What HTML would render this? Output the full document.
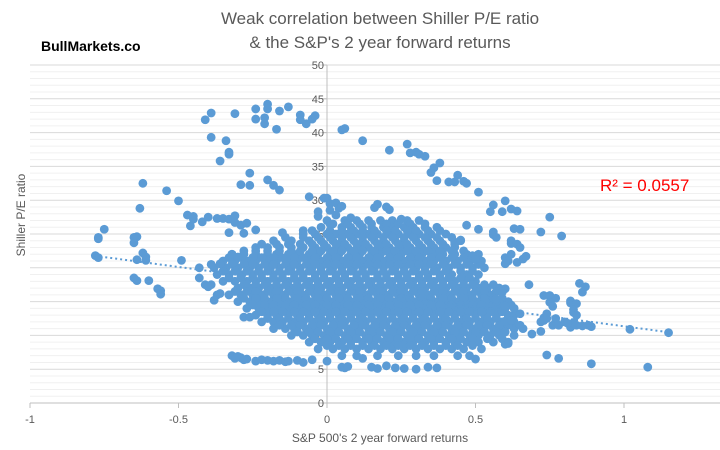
<!DOCTYPE html>
<html><head><meta charset="utf-8"><style>
html,body{margin:0;padding:0;background:#fff;}
svg{display:block;font-family:"Liberation Sans",Calibri,sans-serif;}
</style></head><body>
<svg id="chart" width="720" height="450" viewBox="0 0 720 450">
<text x="380" y="24" text-anchor="middle" font-size="17" fill="#595959">Weak correlation between Shiller P/E ratio</text>
<text x="380" y="48" text-anchor="middle" font-size="17" fill="#595959">&amp; the S&amp;P's 2 year forward returns</text>
<text x="41" y="51" font-size="14" font-weight="bold" fill="#000">BullMarkets.co</text>
<g id="grid"></g>
<g id="axes"></g>
<g id="points"></g>
<g id="trend"></g>
<text x="600" y="191" font-size="17" fill="#ff0000">R² = 0.0557</text>
<text transform="translate(25,215) rotate(-90)" text-anchor="middle" font-size="12" fill="#595959">Shiller P/E ratio</text>
<text x="380" y="442" text-anchor="middle" font-size="12" fill="#595959">S&amp;P 500's 2 year forward returns</text>
</svg>
<script>
const xTicks = [-1, -0.5, 0, 0.5, 1];
const xTickLabels = ["-1", "-0.5", "0", "0.5", "1"];
const yTicks = [0, 5, 10, 15, 20, 25, 30, 35, 40, 45, 50];
const trendSlope = -5.85;
const trendIntercept = 17.2;
const trendRange = [-0.78, 1.15];

const coreY = [27,26,25,24,23,22,21,20,19,18,17,16,15,14,13,12,11,10,9,8,7];
const coreX = [
[0.0,0.06,0.1,0.14,0.18,0.22,0.27,0.31],
[-0.02,0.05,0.08,0.12,0.15,0.19,0.22,0.26,0.29,0.33,0.37],
[-0.08,-0.04,0,0.03,0.07,0.1,0.14,0.17,0.21,0.24,0.28,0.31,0.35,0.4],
[-0.18,-0.12,-0.06,-0.02,0.02,0.05,0.09,0.12,0.16,0.19,0.23,0.26,0.3,0.34,0.38,0.45],
[-0.24,-0.2,-0.16,-0.12,-0.08,-0.04,0,0.04,0.07,0.11,0.14,0.18,0.21,0.25,0.28,0.32,0.36,0.4,0.43],
[-0.32,-0.28,-0.24,-0.2,-0.17,-0.13,-0.1,-0.06,-0.03,0.01,0.04,0.08,0.11,0.15,0.18,0.22,0.25,0.29,0.32,0.36,0.39,0.43,0.47,0.51],
[-0.35,-0.31,-0.27,-0.24,-0.2,-0.17,-0.13,-0.1,-0.06,-0.02,0.01,0.05,0.08,0.12,0.15,0.19,0.22,0.26,0.29,0.33,0.36,0.4,0.44,0.48,0.52],
[-0.43,-0.38,-0.34,-0.3,-0.26,-0.23,-0.19,-0.16,-0.12,-0.09,-0.05,-0.02,0.02,0.05,0.09,0.12,0.16,0.19,0.23,0.26,0.3,0.33,0.37,0.41,0.45,0.49,0.53],
[-0.37,-0.33,-0.29,-0.25,-0.22,-0.18,-0.15,-0.11,-0.08,-0.04,-0.01,0.03,0.06,0.1,0.13,0.17,0.2,0.24,0.27,0.31,0.34,0.38,0.42,0.47,0.51],
[-0.35,-0.31,-0.27,-0.24,-0.2,-0.17,-0.13,-0.1,-0.06,-0.03,0.01,0.04,0.08,0.11,0.15,0.18,0.22,0.25,0.29,0.32,0.36,0.39,0.43,0.46,0.5],
[-0.3,-0.26,-0.23,-0.19,-0.16,-0.12,-0.09,-0.05,-0.02,0.02,0.05,0.09,0.12,0.16,0.19,0.23,0.26,0.3,0.33,0.37,0.4,0.44,0.47,0.51,0.54,0.58],
[-0.37,-0.33,-0.29,-0.25,-0.22,-0.18,-0.15,-0.11,-0.08,-0.04,-0.01,0.03,0.06,0.1,0.13,0.17,0.2,0.24,0.27,0.31,0.34,0.38,0.41,0.45,0.48,0.52,0.55],
[-0.3,-0.26,-0.23,-0.19,-0.16,-0.12,-0.09,-0.05,-0.02,0.02,0.05,0.09,0.12,0.16,0.19,0.23,0.26,0.3,0.33,0.37,0.4,0.44,0.47,0.51,0.54,0.58,0.61],
[-0.27,-0.23,-0.2,-0.16,-0.13,-0.09,-0.06,-0.02,0.01,0.05,0.08,0.12,0.15,0.19,0.22,0.26,0.29,0.33,0.36,0.4,0.43,0.47,0.5,0.54,0.57,0.6,0.63],
[-0.24,-0.2,-0.17,-0.13,-0.1,-0.06,-0.03,0.01,0.04,0.08,0.11,0.15,0.18,0.22,0.25,0.29,0.32,0.36,0.39,0.43,0.46,0.5,0.53,0.57,0.61],
[-0.22,-0.18,-0.15,-0.11,-0.08,-0.04,-0.01,0.03,0.06,0.1,0.13,0.17,0.2,0.24,0.27,0.31,0.34,0.38,0.41,0.45,0.48,0.52,0.55,0.59,0.63],
[-0.18,-0.14,-0.11,-0.07,-0.04,0,0.03,0.07,0.1,0.14,0.17,0.21,0.24,0.28,0.31,0.35,0.38,0.42,0.45,0.49,0.52,0.56,0.59,0.63,0.66],
[-0.12,-0.08,-0.05,-0.01,0.02,0.06,0.09,0.13,0.16,0.2,0.23,0.27,0.3,0.34,0.37,0.41,0.44,0.48,0.51,0.55,0.58,0.63],
[-0.06,-0.02,0.01,0.05,0.08,0.12,0.15,0.19,0.22,0.26,0.29,0.33,0.36,0.4,0.43,0.47,0.51,0.56,0.61],
[-0.03,0.02,0.06,0.1,0.14,0.18,0.22,0.26,0.3,0.34,0.38,0.42,0.46,0.52],
[0.05,0.1,0.17,0.24,0.3,0.36,0.44]
];

const halfY = [26.5,25.5,24.5,23.5,22.5,21.5,20.5,19.5,18.5,17.5,16.5,15.5,14.5,13.5,12.5,11.5,10.5,9.5,8.5];
const halfX = [
[0.02,0.07,0.11,0.15,0.2,0.24,0.28,0.33],
[-0.05,0.01,0.05,0.09,0.12,0.16,0.2,0.23,0.27,0.3,0.34,0.38],
[-0.14,-0.08,-0.03,0.01,0.05,0.08,0.12,0.15,0.19,0.22,0.26,0.29,0.33,0.37,0.42],
[-0.22,-0.17,-0.13,-0.09,-0.05,-0.01,0.03,0.06,0.1,0.13,0.17,0.2,0.24,0.27,0.31,0.35,0.39,0.43],
[-0.28,-0.24,-0.2,-0.16,-0.12,-0.09,-0.05,-0.02,0.02,0.05,0.09,0.12,0.16,0.2,0.23,0.27,0.3,0.34,0.38,0.42,0.46],
[-0.33,-0.29,-0.25,-0.22,-0.18,-0.15,-0.11,-0.08,-0.04,0,0.03,0.07,0.1,0.14,0.17,0.21,0.24,0.28,0.31,0.35,0.38,0.42,0.46,0.5],
[-0.39,-0.32,-0.28,-0.25,-0.21,-0.18,-0.14,-0.11,-0.07,-0.04,0,0.03,0.07,0.1,0.14,0.17,0.21,0.24,0.28,0.31,0.35,0.39,0.43,0.47,0.51],
[-0.35,-0.31,-0.27,-0.23,-0.2,-0.16,-0.13,-0.09,-0.06,-0.02,0.01,0.05,0.08,0.12,0.15,0.19,0.22,0.26,0.29,0.33,0.36,0.4,0.45,0.49],
[-0.33,-0.29,-0.25,-0.22,-0.18,-0.15,-0.11,-0.08,-0.04,-0.01,0.03,0.06,0.1,0.13,0.17,0.2,0.24,0.27,0.31,0.34,0.38,0.41,0.45,0.48],
[-0.28,-0.24,-0.21,-0.17,-0.14,-0.1,-0.07,-0.03,0,0.04,0.07,0.11,0.14,0.18,0.21,0.25,0.28,0.32,0.35,0.39,0.42,0.46,0.49,0.53,0.56],
[-0.31,-0.27,-0.24,-0.2,-0.17,-0.13,-0.1,-0.06,-0.03,0.01,0.04,0.08,0.11,0.15,0.18,0.22,0.25,0.29,0.32,0.36,0.39,0.43,0.46,0.5,0.53,0.57],
[-0.28,-0.24,-0.21,-0.17,-0.14,-0.1,-0.07,-0.03,0,0.04,0.07,0.11,0.14,0.18,0.21,0.25,0.28,0.32,0.35,0.39,0.42,0.46,0.49,0.53,0.56,0.59],
[-0.25,-0.21,-0.18,-0.14,-0.11,-0.07,-0.04,0,0.03,0.07,0.1,0.14,0.17,0.21,0.24,0.28,0.31,0.35,0.38,0.42,0.45,0.49,0.52,0.56,0.59,0.62],
[-0.22,-0.18,-0.15,-0.11,-0.08,-0.04,-0.01,0.03,0.06,0.1,0.13,0.17,0.2,0.24,0.27,0.31,0.34,0.38,0.41,0.45,0.48,0.52,0.55,0.59],
[-0.2,-0.16,-0.13,-0.09,-0.06,-0.02,0.01,0.05,0.08,0.12,0.15,0.19,0.22,0.26,0.29,0.33,0.36,0.4,0.43,0.47,0.5,0.54,0.57,0.61],
[-0.16,-0.12,-0.09,-0.05,-0.02,0.02,0.05,0.09,0.12,0.16,0.19,0.23,0.26,0.3,0.33,0.37,0.4,0.44,0.47,0.51,0.54,0.58,0.61,0.65],
[-0.1,-0.06,-0.03,0.01,0.04,0.08,0.11,0.15,0.18,0.22,0.25,0.29,0.32,0.36,0.39,0.43,0.46,0.5,0.53,0.57,0.6],
[-0.04,0,0.03,0.07,0.1,0.14,0.17,0.21,0.24,0.28,0.31,0.35,0.38,0.42,0.45,0.49,0.54,0.59],
[0,0.04,0.08,0.12,0.16,0.2,0.24,0.28,0.32,0.36,0.4,0.44,0.49]
];

const outX = [-0.41,-0.39,-0.39,-0.34,-0.33,-0.33,-0.36,-0.31,-0.24,-0.24,-0.21,-0.21,-0.2,-0.2,-0.16,-0.17,-0.13,-0.09,-0.09,-0.07,-0.05,-0.04,
-0.26,-0.29,-0.26,-0.2,-0.18,-0.16,-0.62,-0.54,-0.5,-0.63,-0.47,-0.45,-0.46,-0.45,-0.42,-0.4,-0.37,-0.35,-0.33,-0.31,-0.31,-0.29,-0.27,-0.33,-0.28,-0.24,-0.15,-0.08,
-0.06,-0.01,0.0,-0.03,-0.03,0.01,0.03,0.01,0.01,-0.75,-0.77,-0.64,-0.77,-0.78,-0.77,-0.65,-0.65,-0.62,-0.61,-0.61,-0.64,-0.65,-0.64,-0.6,-0.57,-0.56,-0.56,-0.49,-0.43,-0.41,-0.4,-0.39,-0.36,-0.33,-0.38,-0.36,-0.32,-0.3,-0.28,-0.26,
-0.32,-0.29,-0.27,-0.2,-0.18,-0.16,-0.14,-0.13,-0.1,-0.08,-0.05,0.0,0.05,0.06,0.07,0.12,0.15,0.17,0.2,0.23,0.26,0.3,0.34,0.37,-0.31,-0.3,-0.28,-0.24,-0.22,
0.05,0.06,0.12,0.21,0.27,0.28,0.3,0.31,0.33,0.36,0.38,0.35,0.37,0.41,0.43,0.44,0.46,0.47,0.51,0.6,0.56,0.62,0.64,0.55,0.59,0.75,0.47,0.51,0.56,0.56,0.57,0.63,0.65,0.72,0.79,0.62,0.62,0.64,0.43,0.45,0.65,
0.6,0.62,0.61,0.6,0.64,0.66,0.67,0.49,0.5,0.68,0.6,0.85,0.87,0.86,0.73,0.75,0.77,0.82,0.82,0.84,1.02,1.15,0.88,0.89,0.82,0.83,0.76,0.77,0.77,0.72,
0.74,0.78,0.89,1.08,0.75,0.76,0.83,0.83,0.84,0.72,0.73,0.74,0.74,0.73,0.78,0.8,0.81,0.84,0.86,0.69,0.6,0.61,0.5,0.48,0.59,0.58,0.6,0.63,0.63,0.65,0.6,0.62,0.57,0.57,
0.04,0.05,0.16,0.17,0.2,0.21,0.08,0.03,0.25];
const outY = [41.9,42.9,39.3,38.8,37.1,36.8,35.8,42.8,43.5,42,42.2,41.3,44.2,43.5,43.2,40.5,43.8,42.6,41.9,41.3,42,42.5,
34,32.3,32.2,33,32.2,31.5,32.5,31.4,29.9,28.8,27.8,27.6,26.2,27.2,26.8,27.5,27.3,27.3,27.2,27.7,26.7,26.3,26.6,25.2,25.1,25.6,25.2,25.5,
30.5,30.3,30.3,28.3,27.6,29.5,29.6,28.5,26.5,25.7,24.5,24.6,24.3,21.8,21.5,24.5,23.7,22.2,21.6,21.1,21.2,18.5,18.1,18.1,16.9,16.6,16.1,21.1,18.5,17.5,17.2,17.5,16.2,16,15.2,20.6,22,21.6,12.7,12.7,
7,6.7,6.5,6.3,6.2,6.3,6.1,6.2,6.3,6.0,6.4,6.2,5.3,5.2,5.4,6.6,5.3,5.1,5.5,5.2,5.1,5.0,5.3,5.2,6.6,6.9,6.4,6.2,6.4,
40.4,40.6,38.8,37.4,38.3,37,37.1,36.8,36.5,34.8,35.5,34.1,32.9,32.7,32.7,33.7,32.8,32.5,31.2,29.9,29.3,28.7,28.4,28.3,28.3,27.5,26.3,25.7,25.3,24.9,24.5,25.8,25.7,25.3,24.7,24,23.6,23.5,23.8,24.1,23,
21.5,22,21,20.6,20.8,21.3,21.7,21.8,21.2,17.5,16.9,17.7,17.2,16.4,15.9,15.9,15.5,15.1,14.8,14.7,10.9,10.4,11.5,11.3,11.2,11.9,11.5,12,12.5,10.6,
7.1,6.6,5.8,5.3,14.9,14.3,13.8,13.4,13,12,12.6,13.2,12.5,12.2,11.5,12,11.8,11.5,11.4,10.2,8.7,8.8,6.5,7,16.4,14.8,14.3,14,13,13.2,12.1,12.2,15,15.4,
28.8,29.1,28.9,29.4,29,28.6,27.4,27.8,27.2];

const X0 = 327, XU = 297, Y0 = 403, YU = 6.76;
function sx(v){ return X0 + v*XU; }
function sy(v){ return Y0 - v*YU; }
const NS = "http://www.w3.org/2000/svg";
function mk(tag, attrs, parent){ const e = document.createElementNS(NS, tag); for (const k in attrs) e.setAttribute(k, attrs[k]); parent.appendChild(e); return e; }

const grid = document.getElementById('grid');
for (let v = 1; v <= 50; v++) {
  if (v % 5 === 0) continue;
  const l = mk('line', {x1:30, x2:720, y1:sy(v), y2:sy(v), stroke:'#f0f0f0', 'stroke-width':1}, grid);
  
  
}
yTicks.forEach(v => {
  if (v === 0) return;
  const l = mk('line', {x1:30, x2:720, y1:sy(v), y2:sy(v), stroke:'#d9d9d9', 'stroke-width':1}, grid);
  
  
});

const axes = document.getElementById('axes');
const xa = mk('line', {x1:30, x2:720, y1:Y0, y2:Y0, stroke:'#bfbfbf', 'stroke-width':1}, axes);


const ya = mk('line', {x1:X0, x2:X0, y1:sy(50), y2:Y0, stroke:'#bfbfbf', 'stroke-width':1}, axes);


xTicks.forEach((v, i) => {
  const t = mk('line', {x1:sx(v), x2:sx(v), y1:Y0, y2:Y0+5, stroke:'#bfbfbf'}, axes);
  
  
  const tx = mk('text', {x:sx(v), y:Y0+20, 'text-anchor':'middle', 'font-size':11, fill:'#595959'}, axes);
  tx.textContent = xTickLabels[i];
  
  
});
yTicks.forEach(v => {
  const t = mk('line', {x1:X0-5, x2:X0, y1:sy(v), y2:sy(v), stroke:'#bfbfbf'}, axes);
  
  
  const tx = mk('text', {x:X0-3, y:sy(v)+4, 'text-anchor':'end', 'font-size':11, fill:'#595959'}, axes);
  tx.textContent = String(v);
  
  
});

const pts = document.getElementById('points');
coreY.forEach((yv, r) => {
  coreX[r].forEach(xv => {
    const c = mk('circle', {cx:sx(xv), cy:sy(yv), r:4.4, fill:'#5b9bd5'}, pts);
    
    
  });
});
halfY.forEach((yv, r) => {
  halfX[r].forEach(xv => {
    const c = mk('circle', {cx:sx(xv), cy:sy(yv), r:4.4, fill:'#5b9bd5'}, pts);
    
    
  });
});
outX.forEach((xv, i) => {
  const c = mk('circle', {cx:sx(xv), cy:sy(outY[i]), r:4.4, fill:'#5b9bd5'}, pts);
  
  
});

const trend = document.getElementById('trend');
const tl = mk('line', {x1:sx(trendRange[0]), y1:sy(trendIntercept + trendSlope*trendRange[0]), x2:sx(trendRange[1]), y2:sy(trendIntercept + trendSlope*trendRange[1]), stroke:'#5b9bd5', 'stroke-width':2, 'stroke-dasharray':'2,3'}, trend);


</script>
</body></html>
